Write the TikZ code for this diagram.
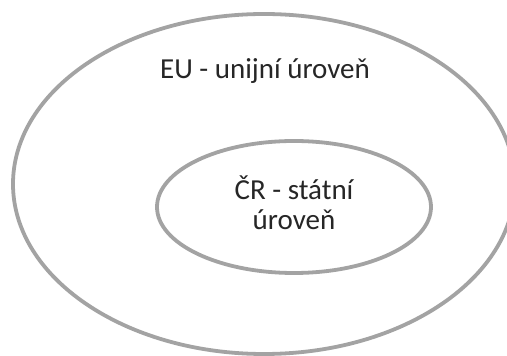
\documentclass[tikz,border=0pt]{standalone}
\usepackage{fontspec}
\setmainfont{Carlito}
\definecolor{ringgray}{HTML}{A3A3A3}
\definecolor{txtgray}{HTML}{262626}
\begin{document}
\begin{tikzpicture}[x=1pt,y=1pt,
  ring/.style={draw=ringgray,line width=3.8pt},
  lbl/.style={text=txtgray,font=\fontsize{29}{30.5}\selectfont,inner sep=0pt,align=center}]
\useasboundingbox (0,0) rectangle (507,356);
\clip (0,0) rectangle (507,356);
\fill[white] (0,0) rectangle (507,356);
\draw[ring] (264,172) ellipse [x radius=251, y radius=170];
\draw[ring] (294,149) ellipse [x radius=137, y radius=66];
\node[lbl,anchor=base] (eu) at (265,277.3) {EU - unijní úroveň};
\node[lbl,anchor=base] (cr) at (294,126) {ČR - státní\\úroveň};
\end{tikzpicture}
\end{document}
